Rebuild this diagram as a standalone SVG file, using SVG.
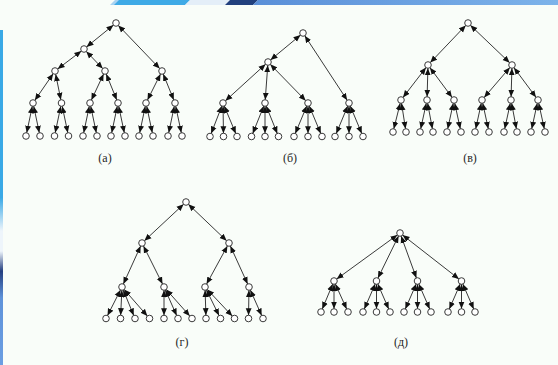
<svg xmlns="http://www.w3.org/2000/svg" width="558" height="365" viewBox="0 0 558 365">
  <defs>
    <style>
      .e { stroke: #3a3a3a; stroke-width: 1; fill: none; marker-start: url(#ah); marker-end: url(#ah); }
      .n circle { fill: #ffffff; stroke: #3a3a3a; stroke-width: 1; }
      .lbl { font-family: "Liberation Serif", "DejaVu Serif", serif; font-size: 12px; fill: #262626; text-anchor: middle; }
    </style>
    <!-- arrowhead; tip sits 3.3px back from the line end so it touches the node rim -->
    <marker id="ah" viewBox="0 0 15 10" refX="14.7" refY="5" markerWidth="10.5" markerHeight="7" markerUnits="userSpaceOnUse" orient="auto-start-reverse">
      <path d="M0,0.8 L10,5 L0,9.2 Z" fill="#111111"/>
    </marker>
    <linearGradient id="topBlue" x1="0" y1="0" x2="1" y2="0">
      <stop offset="0" stop-color="#5a8fd8"/>
      <stop offset="1" stop-color="#7db3ea"/>
    </linearGradient>
    <linearGradient id="leftBlue" x1="0" y1="0" x2="0" y2="1">
      <stop offset="0" stop-color="#3aa9e6"/>
      <stop offset="0.5" stop-color="#3aa9e6"/>
      <stop offset="0.6" stop-color="#eef5fb"/>
      <stop offset="0.66" stop-color="#eef5fb"/>
      <stop offset="0.72" stop-color="#243f80"/>
      <stop offset="0.8" stop-color="#5f93da"/>
      <stop offset="1" stop-color="#6b9ee2"/>
    </linearGradient>
  </defs>

  <!-- page -->
  <rect x="0" y="0" width="558" height="365" fill="#f9fdf9"/>

  <!-- frame bands -->
  <g id="frame">
    <polygon points="110,5 115,0 190,0 185,5" fill="#a9d3f2"/>
    <polygon points="114,5 119,0 190,0 185,5" fill="#3faae6"/>
    <polygon points="185,5 190,0 230,0 225,5" fill="#e4eef8"/>
    <polygon points="225,5 230,0 258,0 253,5" fill="#22407e"/>
    <polygon points="253,5 258,0 558,0 558,5" fill="url(#topBlue)"/>
    <rect x="0" y="30" width="3" height="335" fill="url(#leftBlue)"/>
  </g>

  <g id="connectors">
    <!-- tree (а) -->
    <g id="edges-a">
      <line class="e" x1="116" y1="23" x2="84" y2="49"/>
      <line class="e" x1="116" y1="23" x2="162" y2="71"/>
      <line class="e" x1="84" y1="49" x2="55" y2="71"/>
      <line class="e" x1="84" y1="49" x2="105" y2="71"/>
      <line class="e" x1="55" y1="71" x2="33" y2="103"/>
      <line class="e" x1="55" y1="71" x2="61.5" y2="103"/>
      <line class="e" x1="105" y1="71" x2="90" y2="103"/>
      <line class="e" x1="105" y1="71" x2="118" y2="103"/>
      <line class="e" x1="162" y1="71" x2="146" y2="103"/>
      <line class="e" x1="162" y1="71" x2="175" y2="103"/>
      <line class="e" x1="33" y1="103" x2="26" y2="136"/>
      <line class="e" x1="33" y1="103" x2="40" y2="136"/>
      <line class="e" x1="61.5" y1="103" x2="54.5" y2="136"/>
      <line class="e" x1="61.5" y1="103" x2="68.5" y2="136"/>
      <line class="e" x1="90" y1="103" x2="83" y2="136"/>
      <line class="e" x1="90" y1="103" x2="97" y2="136"/>
      <line class="e" x1="118" y1="103" x2="111" y2="136"/>
      <line class="e" x1="118" y1="103" x2="125" y2="136"/>
      <line class="e" x1="146" y1="103" x2="139" y2="136"/>
      <line class="e" x1="146" y1="103" x2="153" y2="136"/>
      <line class="e" x1="175" y1="103" x2="168" y2="136"/>
      <line class="e" x1="175" y1="103" x2="182" y2="136"/>
    </g>
    <!-- tree (б) -->
    <g id="edges-b">
      <line class="e" x1="303" y1="33" x2="268" y2="62"/>
      <line class="e" x1="303" y1="33" x2="349" y2="103"/>
      <line class="e" x1="268" y1="62" x2="223" y2="103"/>
      <line class="e" x1="268" y1="62" x2="265" y2="103"/>
      <line class="e" x1="268" y1="62" x2="308" y2="103"/>
      <line class="e" x1="223" y1="103" x2="210" y2="136.5"/>
      <line class="e" x1="223" y1="103" x2="223.5" y2="136.5"/>
      <line class="e" x1="223" y1="103" x2="237" y2="136.5"/>
      <line class="e" x1="265" y1="103" x2="251.5" y2="136.5"/>
      <line class="e" x1="265" y1="103" x2="265" y2="136.5"/>
      <line class="e" x1="265" y1="103" x2="278.5" y2="136.5"/>
      <line class="e" x1="308" y1="103" x2="294" y2="136.5"/>
      <line class="e" x1="308" y1="103" x2="308" y2="136.5"/>
      <line class="e" x1="308" y1="103" x2="322" y2="136.5"/>
      <line class="e" x1="349" y1="103" x2="335" y2="136.5"/>
      <line class="e" x1="349" y1="103" x2="349" y2="136.5"/>
      <line class="e" x1="349" y1="103" x2="363" y2="136.5"/>
    </g>
    <!-- tree (в) -->
    <g id="edges-c">
      <line class="e" x1="468" y1="23" x2="428" y2="65"/>
      <line class="e" x1="468" y1="23" x2="512" y2="65"/>
      <line class="e" x1="428" y1="65" x2="401" y2="100"/>
      <line class="e" x1="428" y1="65" x2="427" y2="100"/>
      <line class="e" x1="428" y1="65" x2="454" y2="100"/>
      <line class="e" x1="512" y1="65" x2="482" y2="100"/>
      <line class="e" x1="512" y1="65" x2="511" y2="100"/>
      <line class="e" x1="512" y1="65" x2="538" y2="100"/>
      <line class="e" x1="401" y1="100" x2="393" y2="132"/>
      <line class="e" x1="401" y1="100" x2="406" y2="132"/>
      <line class="e" x1="427" y1="100" x2="420" y2="132"/>
      <line class="e" x1="427" y1="100" x2="433" y2="132"/>
      <line class="e" x1="454" y1="100" x2="447" y2="132"/>
      <line class="e" x1="454" y1="100" x2="461" y2="132"/>
      <line class="e" x1="482" y1="100" x2="475" y2="132"/>
      <line class="e" x1="482" y1="100" x2="489" y2="132"/>
      <line class="e" x1="511" y1="100" x2="504" y2="132"/>
      <line class="e" x1="511" y1="100" x2="517" y2="132"/>
      <line class="e" x1="538" y1="100" x2="531" y2="132"/>
      <line class="e" x1="538" y1="100" x2="545" y2="132"/>
    </g>
    <!-- tree (г) -->
    <g id="edges-d">
      <line class="e" x1="186" y1="202" x2="142" y2="243"/>
      <line class="e" x1="186" y1="202" x2="229" y2="243"/>
      <line class="e" x1="142" y1="243" x2="122" y2="287"/>
      <line class="e" x1="142" y1="243" x2="164" y2="287"/>
      <line class="e" x1="229" y1="243" x2="205" y2="287"/>
      <line class="e" x1="229" y1="243" x2="249" y2="287"/>
      <line class="e" x1="122" y1="287" x2="106" y2="318.5"/>
      <line class="e" x1="122" y1="287" x2="120.5" y2="318.5"/>
      <line class="e" x1="122" y1="287" x2="135" y2="318.5"/>
      <line class="e" x1="122" y1="287" x2="149.5" y2="318.5"/>
      <line class="e" x1="164" y1="287" x2="164" y2="318.5"/>
      <line class="e" x1="164" y1="287" x2="178" y2="318.5"/>
      <line class="e" x1="164" y1="287" x2="192" y2="318.5"/>
      <line class="e" x1="205" y1="287" x2="206" y2="318.5"/>
      <line class="e" x1="205" y1="287" x2="220.5" y2="318.5"/>
      <line class="e" x1="205" y1="287" x2="234.5" y2="318.5"/>
      <line class="e" x1="249" y1="287" x2="248.5" y2="318.5"/>
      <line class="e" x1="249" y1="287" x2="263" y2="318.5"/>
    </g>
    <!-- tree (д) -->
    <g id="edges-e">
      <line class="e" x1="400" y1="233" x2="334" y2="281"/>
      <line class="e" x1="400" y1="233" x2="376.5" y2="281"/>
      <line class="e" x1="400" y1="233" x2="417.5" y2="281"/>
      <line class="e" x1="400" y1="233" x2="461.5" y2="281"/>
      <line class="e" x1="334" y1="281" x2="321" y2="312"/>
      <line class="e" x1="334" y1="281" x2="334" y2="312"/>
      <line class="e" x1="334" y1="281" x2="348" y2="312"/>
      <line class="e" x1="376.5" y1="281" x2="363" y2="312"/>
      <line class="e" x1="376.5" y1="281" x2="376.5" y2="312"/>
      <line class="e" x1="376.5" y1="281" x2="390" y2="312"/>
      <line class="e" x1="417.5" y1="281" x2="404" y2="312"/>
      <line class="e" x1="417.5" y1="281" x2="417.5" y2="312"/>
      <line class="e" x1="417.5" y1="281" x2="431" y2="312"/>
      <line class="e" x1="461.5" y1="281" x2="448" y2="312"/>
      <line class="e" x1="461.5" y1="281" x2="461.5" y2="312"/>
      <line class="e" x1="461.5" y1="281" x2="475" y2="312"/>
    </g>
  </g>

  <!-- nodes, tree (а) -->
  <g id="nodes-a">
    <g class="n" id="a0"><circle cx="116" cy="23" r="3.3"/></g>
    <g class="n" id="a1"><circle cx="84" cy="49" r="3.3"/></g>
    <g class="n" id="a2"><circle cx="162" cy="71" r="3.3"/></g>
    <g class="n" id="a3"><circle cx="55" cy="71" r="3.3"/></g>
    <g class="n" id="a4"><circle cx="105" cy="71" r="3.3"/></g>
    <g class="n" id="a5"><circle cx="33" cy="103" r="3.3"/></g>
    <g class="n" id="a6"><circle cx="61.5" cy="103" r="3.3"/></g>
    <g class="n" id="a7"><circle cx="90" cy="103" r="3.3"/></g>
    <g class="n" id="a8"><circle cx="118" cy="103" r="3.3"/></g>
    <g class="n" id="a9"><circle cx="146" cy="103" r="3.3"/></g>
    <g class="n" id="a10"><circle cx="175" cy="103" r="3.3"/></g>
    <g class="n" id="a11"><circle cx="26" cy="136" r="3.3"/></g>
    <g class="n" id="a12"><circle cx="40" cy="136" r="3.3"/></g>
    <g class="n" id="a13"><circle cx="54.5" cy="136" r="3.3"/></g>
    <g class="n" id="a14"><circle cx="68.5" cy="136" r="3.3"/></g>
    <g class="n" id="a15"><circle cx="83" cy="136" r="3.3"/></g>
    <g class="n" id="a16"><circle cx="97" cy="136" r="3.3"/></g>
    <g class="n" id="a17"><circle cx="111" cy="136" r="3.3"/></g>
    <g class="n" id="a18"><circle cx="125" cy="136" r="3.3"/></g>
    <g class="n" id="a19"><circle cx="139" cy="136" r="3.3"/></g>
    <g class="n" id="a20"><circle cx="153" cy="136" r="3.3"/></g>
    <g class="n" id="a21"><circle cx="168" cy="136" r="3.3"/></g>
    <g class="n" id="a22"><circle cx="182" cy="136" r="3.3"/></g>
  </g>

  <!-- nodes, tree (б) -->
  <g id="nodes-b">
    <g class="n" id="b0"><circle cx="303" cy="33" r="3.3"/></g>
    <g class="n" id="b1"><circle cx="268" cy="62" r="3.3"/></g>
    <g class="n" id="b2"><circle cx="223" cy="103" r="3.3"/></g>
    <g class="n" id="b3"><circle cx="265" cy="103" r="3.3"/></g>
    <g class="n" id="b4"><circle cx="308" cy="103" r="3.3"/></g>
    <g class="n" id="b5"><circle cx="349" cy="103" r="3.3"/></g>
    <g class="n" id="b6"><circle cx="210" cy="136.5" r="3.3"/></g>
    <g class="n" id="b7"><circle cx="223.5" cy="136.5" r="3.3"/></g>
    <g class="n" id="b8"><circle cx="237" cy="136.5" r="3.3"/></g>
    <g class="n" id="b9"><circle cx="251.5" cy="136.5" r="3.3"/></g>
    <g class="n" id="b10"><circle cx="265" cy="136.5" r="3.3"/></g>
    <g class="n" id="b11"><circle cx="278.5" cy="136.5" r="3.3"/></g>
    <g class="n" id="b12"><circle cx="294" cy="136.5" r="3.3"/></g>
    <g class="n" id="b13"><circle cx="308" cy="136.5" r="3.3"/></g>
    <g class="n" id="b14"><circle cx="322" cy="136.5" r="3.3"/></g>
    <g class="n" id="b15"><circle cx="335" cy="136.5" r="3.3"/></g>
    <g class="n" id="b16"><circle cx="349" cy="136.5" r="3.3"/></g>
    <g class="n" id="b17"><circle cx="363" cy="136.5" r="3.3"/></g>
  </g>

  <!-- nodes, tree (в) -->
  <g id="nodes-c">
    <g class="n" id="c0"><circle cx="468" cy="23" r="3.3"/></g>
    <g class="n" id="c1"><circle cx="428" cy="65" r="3.3"/></g>
    <g class="n" id="c2"><circle cx="512" cy="65" r="3.3"/></g>
    <g class="n" id="c3"><circle cx="401" cy="100" r="3.3"/></g>
    <g class="n" id="c4"><circle cx="427" cy="100" r="3.3"/></g>
    <g class="n" id="c5"><circle cx="454" cy="100" r="3.3"/></g>
    <g class="n" id="c6"><circle cx="482" cy="100" r="3.3"/></g>
    <g class="n" id="c7"><circle cx="511" cy="100" r="3.3"/></g>
    <g class="n" id="c8"><circle cx="538" cy="100" r="3.3"/></g>
    <g class="n" id="c9"><circle cx="393" cy="132" r="3.3"/></g>
    <g class="n" id="c10"><circle cx="406" cy="132" r="3.3"/></g>
    <g class="n" id="c11"><circle cx="420" cy="132" r="3.3"/></g>
    <g class="n" id="c12"><circle cx="433" cy="132" r="3.3"/></g>
    <g class="n" id="c13"><circle cx="447" cy="132" r="3.3"/></g>
    <g class="n" id="c14"><circle cx="461" cy="132" r="3.3"/></g>
    <g class="n" id="c15"><circle cx="475" cy="132" r="3.3"/></g>
    <g class="n" id="c16"><circle cx="489" cy="132" r="3.3"/></g>
    <g class="n" id="c17"><circle cx="504" cy="132" r="3.3"/></g>
    <g class="n" id="c18"><circle cx="517" cy="132" r="3.3"/></g>
    <g class="n" id="c19"><circle cx="531" cy="132" r="3.3"/></g>
    <g class="n" id="c20"><circle cx="545" cy="132" r="3.3"/></g>
  </g>

  <!-- nodes, tree (г) -->
  <g id="nodes-d">
    <g class="n" id="d0"><circle cx="186" cy="202" r="3.3"/></g>
    <g class="n" id="d1"><circle cx="142" cy="243" r="3.3"/></g>
    <g class="n" id="d2"><circle cx="229" cy="243" r="3.3"/></g>
    <g class="n" id="d3"><circle cx="122" cy="287" r="3.3"/></g>
    <g class="n" id="d4"><circle cx="164" cy="287" r="3.3"/></g>
    <g class="n" id="d5"><circle cx="205" cy="287" r="3.3"/></g>
    <g class="n" id="d6"><circle cx="249" cy="287" r="3.3"/></g>
    <g class="n" id="d7"><circle cx="106" cy="318.5" r="3.3"/></g>
    <g class="n" id="d8"><circle cx="120.5" cy="318.5" r="3.3"/></g>
    <g class="n" id="d9"><circle cx="135" cy="318.5" r="3.3"/></g>
    <g class="n" id="d10"><circle cx="149.5" cy="318.5" r="3.3"/></g>
    <g class="n" id="d11"><circle cx="164" cy="318.5" r="3.3"/></g>
    <g class="n" id="d12"><circle cx="178" cy="318.5" r="3.3"/></g>
    <g class="n" id="d13"><circle cx="192" cy="318.5" r="3.3"/></g>
    <g class="n" id="d14"><circle cx="206" cy="318.5" r="3.3"/></g>
    <g class="n" id="d15"><circle cx="220.5" cy="318.5" r="3.3"/></g>
    <g class="n" id="d16"><circle cx="234.5" cy="318.5" r="3.3"/></g>
    <g class="n" id="d17"><circle cx="248.5" cy="318.5" r="3.3"/></g>
    <g class="n" id="d18"><circle cx="263" cy="318.5" r="3.3"/></g>
  </g>

  <!-- nodes, tree (д) -->
  <g id="nodes-e">
    <g class="n" id="e0"><circle cx="400" cy="233" r="3.3"/></g>
    <g class="n" id="e1"><circle cx="334" cy="281" r="3.3"/></g>
    <g class="n" id="e2"><circle cx="376.5" cy="281" r="3.3"/></g>
    <g class="n" id="e3"><circle cx="417.5" cy="281" r="3.3"/></g>
    <g class="n" id="e4"><circle cx="461.5" cy="281" r="3.3"/></g>
    <g class="n" id="e5"><circle cx="321" cy="312" r="3.3"/></g>
    <g class="n" id="e6"><circle cx="334" cy="312" r="3.3"/></g>
    <g class="n" id="e7"><circle cx="348" cy="312" r="3.3"/></g>
    <g class="n" id="e8"><circle cx="363" cy="312" r="3.3"/></g>
    <g class="n" id="e9"><circle cx="376.5" cy="312" r="3.3"/></g>
    <g class="n" id="e10"><circle cx="390" cy="312" r="3.3"/></g>
    <g class="n" id="e11"><circle cx="404" cy="312" r="3.3"/></g>
    <g class="n" id="e12"><circle cx="417.5" cy="312" r="3.3"/></g>
    <g class="n" id="e13"><circle cx="431" cy="312" r="3.3"/></g>
    <g class="n" id="e14"><circle cx="448" cy="312" r="3.3"/></g>
    <g class="n" id="e15"><circle cx="461.5" cy="312" r="3.3"/></g>
    <g class="n" id="e16"><circle cx="475" cy="312" r="3.3"/></g>
  </g>

  <!-- captions -->
  <g id="captions">
    <text class="lbl" x="105" y="162">(а)</text>
    <text class="lbl" x="290" y="162">(б)</text>
    <text class="lbl" x="470" y="162">(в)</text>
    <text class="lbl" x="182" y="346">(г)</text>
    <text class="lbl" x="401" y="346">(д)</text>
  </g>
</svg>
